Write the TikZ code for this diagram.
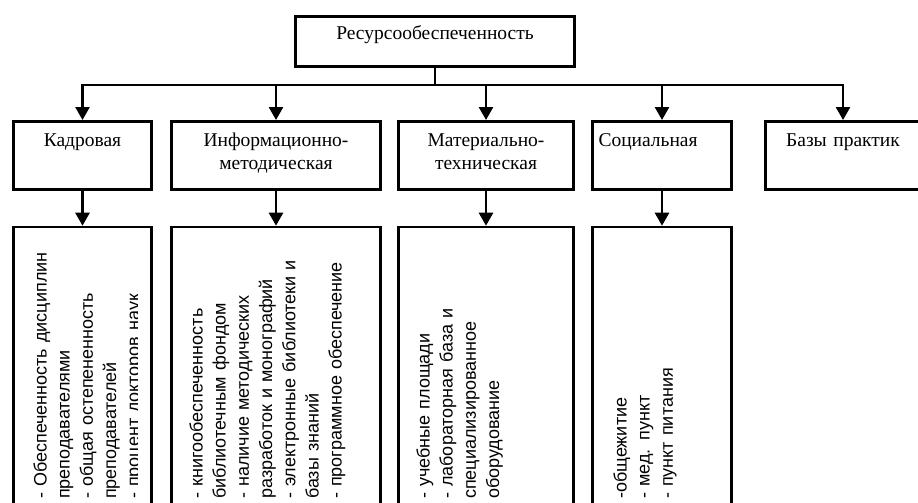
\documentclass[tikz,border=0pt]{standalone}
\usepackage{fontspec}
\setmainfont{Liberation Serif}
\newfontfamily\itemfont{Liberation Sans}
\usetikzlibrary{arrows.meta}
\tikzset{
  box/.style={draw,line width=2.6pt,inner xsep=6pt,inner ysep=0pt,anchor=north,
    font=\fontsize{19.5}{23}\selectfont},
  head/.style={box,text height=25.5pt,text depth=42.5pt},
  list/.style={draw,line width=2.6pt,minimum height=320pt,anchor=north,inner sep=0pt},
  items/.style={rotate=90,anchor=base west,inner sep=0pt,text width=290pt,align=left,
    font=\itemfont\fontsize{18}{23.2}\selectfont},
  link/.style={line width=2.6pt,->},
}
% rotated list inside a box, cut at the right edge
\newcommand\ListText[3]{
\begin{scope}
\path ([xshift=-15pt]#1.north east) coordinate (#1cut);
\clip
  (#1.north west) rectangle (#1cut |- 0,503);
\node[items] (#1text) at (#2,499) {#3};
\end{scope}
}

\begin{document}
\begin{tikzpicture}[x=1pt,y=-1pt,>={Triangle[width=14pt,length=13pt]}]
\clip (0,0) rectangle (918,503);
\fill[white] (0,0) rectangle (918,503);

\node[box,text height=23.5pt,text depth=26.5pt,text width=267pt,align=center]
  (res) at (435,15) {Ресурсообеспеченность};
\coordinate (bus) at (435,85);

\node[head,text width=126pt,align=center] (kadr) at (82.5,120) {Кадровая};
\node[head,text width=197pt,align=center] (info) at (276,120) {Информационно-\\методическая};
\node[head,text width=163pt,align=center] (mat) at (486,120) {Материально-\\техническая};
\node[head,text width=127pt,align=left] (soc) at (662,120) {Социальная};
\node[head,text width=143pt,align=center] (base) at (843,120) {Базы практик};

\node[list,minimum width=138pt] (kadrlist) at (82.5,225.7) {};
\node[list,minimum width=209pt] (infolist) at (276,225.7) {};
\node[list,minimum width=175pt] (matlist) at (486,225.7) {};
\node[list,minimum width=139pt] (soclist) at (662,225.7) {};

\draw[line width=2.6pt] (res.south) -- (bus);
\foreach \n in {kadr,info,mat,soc,base}
  \draw[link] (bus) -| (\n.north);
\foreach \n in {kadr,info,mat,soc}
  \draw[link] (\n.south) -- (\n list.north);

\ListText{kadrlist}{46.5}{- Обеспеченность дисциплин\\преподавателями\\- общая остепененность\\преподавателей\\- процент докторов наук}
\ListText{infolist}{202.5}{- книгообеспеченность\\библиотечным фондом\\- наличие методических\\разработок и монографий\\- электронные библиотеки и\\базы знаний\\- программное обеспечение}
\ListText{matlist}{429.5}{- учебные площади\\- лабораторная база и\\специализированное\\оборудование}
\ListText{soclist}{626.5}{-общежитие\\- мед. пункт\\- пункт питания}
\end{tikzpicture}
\end{document}
